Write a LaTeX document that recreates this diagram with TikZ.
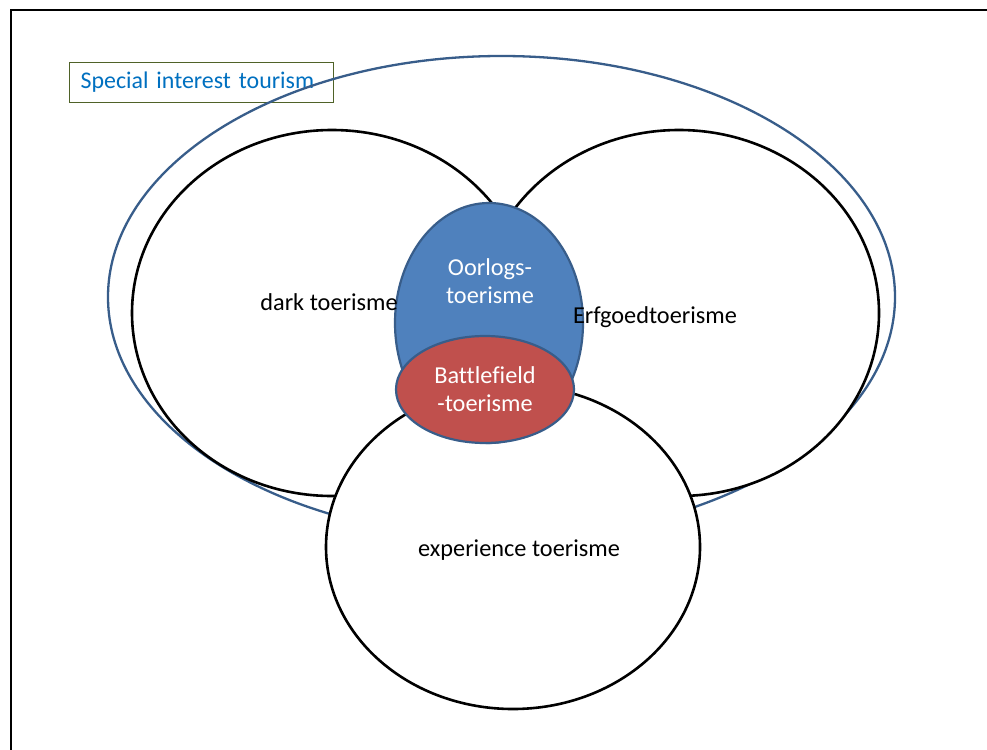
\documentclass[tikz,border=0pt]{standalone}
\usepackage{fontspec}
\setmainfont{Carlito}[Ligatures=NoCommon]
\usetikzlibrary{shapes.geometric}
\definecolor{sitblue}{HTML}{385D8A}
\definecolor{oorblue}{HTML}{4F81BD}
\definecolor{bfred}{HTML}{C0504D}
\definecolor{lblblue}{HTML}{0070C0}
\definecolor{boxgreen}{HTML}{4F6228}
\begin{document}
\begin{tikzpicture}[x=1pt,y=-1pt,
  venn/.style={ellipse, draw=black, line width=2.6pt, fill=white, inner sep=0pt},
  inner/.style={ellipse, draw=sitblue, line width=2.2pt, inner sep=0pt},
  lbl/.style={font=\fontsize{24.3}{28.5}\selectfont, align=center, inner sep=0pt}]
\useasboundingbox (0,0) rectangle (987,749);
\clip (0,0) rectangle (987,749);
\fill[white] (0,0) rectangle (987,749);
\draw[line width=2.2pt] (11,770) -- (11,10) -- (1010,10);
\node[lbl, draw=boxgreen, line width=1.2pt, fill=white, anchor=north west,
      minimum height=40pt, text width=242pt, inner xsep=11pt, align=left,
      text=lblblue, font=\fontsize{23.9}{28.5}\selectfont] (sitlabel) at (69,62) {Special interest tourism};
\node[ellipse, draw=sitblue, line width=2.3pt, inner sep=0pt,
      minimum width=787pt, minimum height=482pt] (sit) at (501.5,297) {};
\node[venn, minimum width=400pt, minimum height=366pt] (dark) at (332,313) {};
\node[venn, minimum width=400pt, minimum height=366pt] (erf) at (679,313) {};
\node[venn, minimum width=374pt, minimum height=324pt] (exp) at (513,547) {};
\node[inner, fill=oorblue, minimum width=188pt, minimum height=240pt] (oor) at (489,323) {};
\node[inner, fill=bfred, minimum width=178pt, minimum height=107pt] (bf) at (485,389.5) {};
\node[lbl] (darktext) at (329,302) {dark toerisme};
\node[lbl] (erftext) at (655,317) {Erfgoedtoerisme};
\node[lbl] (exptext) at (519,550) {experience toerisme};
\node[lbl, text=white] (oortext) at (490,281) {Oorlogs-\\toerisme};
\node[lbl, text=white] (bftext) at (485,389) {Battlefield\\-toerisme};
\end{tikzpicture}
\end{document}
